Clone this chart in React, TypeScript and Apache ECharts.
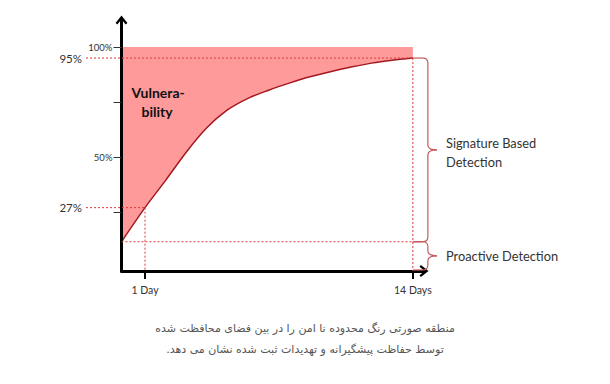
import React, { useEffect, useRef } from 'react';
import * as echarts from 'echarts';

// ---- data ----
const days = [-0.14, 1, 2, 3, 4, 5, 6, 7, 8, 9, 10, 11, 12, 13, 14];
const coverage = [11.5, 27, 39.4, 52.2, 63.3, 71.4, 76.7, 80.4, 83.6, 86.5, 88.8, 90.9, 92.7, 94, 95];
const ceiling = 100;
const yTickValues = [25, 50, 75, 100];
const yLabelValues = [50, 100];
const xTickValues = [1, 14];
const xTickLabels = ['1 Day', '14 Days'];
const markedLevels = [95, 27];
const markedDays = [14, 1];
const regionLabel = ['Vulnera-', 'bility'];
const signatureLabel = ['Signature Based', 'Detection'];
const proactiveLabel = 'Proactive Detection';
const captionLines = [
  'منطقه صورتی رنگ محدوده نا امن را در بین فضای محافظت شده',
  'توسط حفاظت پیشگیرانه و تهدیدات ثبت شده نشان می دهد.\u200F',
];

const X_MIN = -0.14;
const X_MAX = 14.54;
const Y_MIN = -1.8;
const Y_MAX = 112.3;

const LATIN = 'Lato, "Open Sans", sans-serif';
const DASH_COLOR = '#d83a3a';
const BRACE_COLOR = '#c25a5a';
const FILL_COLOR = '#ff9a9a';
const CHEVRON = 'path://M5,0L10,6.4L8.5,7.6L5,3.2L1.5,7.6L0,6.4Z';

export default function App() {
  const ref = useRef<HTMLDivElement>(null);

  useEffect(() => {
    if (!ref.current) return;
    const chart = echarts.init(ref.current, null, { renderer: 'svg' });

    chart.setOption({
      animation: false,
      backgroundColor: '#ffffff',
      grid: {
        left: 121.5,
        right: 186,
        top: 20,
        bottom: 113,
        containLabel: false,
        outerBoundsMode: 'none',
      },
      xAxis: {
        type: 'value',
        min: X_MIN,
        max: X_MAX,
        splitLine: { show: false },
        axisLine: {
          onZero: false,
          symbol: ['none', CHEVRON],
          symbolSize: [12, 9],
          lineStyle: { color: '#000', width: 3 },
        },
        axisTick: {
          show: true,
          customValues: xTickValues,
          length: 8,
          lineStyle: { color: '#000', width: 2 },
        },
        axisLabel: {
          show: true,
          customValues: xTickValues,
          margin: 13,
          fontSize: 10.5,
          fontFamily: LATIN,
          color: '#333',
          formatter: (v: number) => {
            const i = xTickValues.indexOf(Math.round(v));
            return i >= 0 ? xTickLabels[i] : '';
          },
        },
        z: 5,
      },
      yAxis: {
        type: 'value',
        min: Y_MIN,
        max: Y_MAX,
        splitLine: { show: false },
        axisLine: {
          onZero: false,
          symbol: ['none', CHEVRON],
          symbolSize: [12, 9],
          lineStyle: { color: '#000', width: 3 },
        },
        axisTick: {
          show: true,
          customValues: yTickValues,
          length: 8,
          lineStyle: { color: '#333', width: 1 },
        },
        axisLabel: {
          show: true,
          customValues: yLabelValues,
          margin: 9,
          fontSize: 9.5,
          fontFamily: LATIN,
          color: '#333',
          formatter: (v: number) => `${Math.round(v)}%`,
        },
        z: 5,
      },
      series: [
        {
          name: 'coverage',
          type: 'line',
          smooth: 0.3,
          symbol: 'none',
          data: days.map((d, i) => [d, coverage[i]]),
          lineStyle: { color: '#a3191f', width: 1.5 },
          areaStyle: { color: '#ffffff', opacity: 1, origin: 'start' },
          z: 3,
        },
      ],
    });

    const px = (x: number, y: number) =>
      chart.convertToPixel({ gridIndex: 0 }, [x, y]) as number[];

    const [xOrigin, yAxisPix] = px(X_MIN, Y_MIN);
    const yCeil = px(0, ceiling)[1];
    const yProactive = px(0, coverage[0])[1];
    const [x14, y95] = px(markedDays[0], markedLevels[0]);
    const [x1, y27] = px(markedDays[1], markedLevels[1]);
    const xEnd = px(days[days.length - 1], 0)[0];

    const dashed = { stroke: DASH_COLOR, lineWidth: 1, lineDash: [2, 2] };
    const braceStyle = { stroke: BRACE_COLOR, lineWidth: 1.2, fill: 'none' };

    const line = (x1a: number, y1a: number, x2a: number, y2a: number, style: any) => ({
      type: 'line',
      shape: { x1: x1a, y1: y1a, x2: x2a, y2: y2a },
      style,
      silent: true,
      z: 10,
    });
    const quad = (xa: number, ya: number, cx: number, cy: number, xb: number, yb: number) => ({
      type: 'bezierCurve',
      shape: { x1: xa, y1: ya, cpx1: cx, cpy1: cy, x2: xb, y2: yb },
      style: braceStyle,
      silent: true,
      z: 10,
    });
    const brace = (xs: number, ya: number, yb: number) => {
      const sx = xs + 15;
      const nx = sx + 9;
      const ym = (ya + yb) / 2;
      const r = 5;
      return [
        line(xs, ya, sx - r, ya, braceStyle),
        quad(sx - r, ya, sx, ya, sx, ya + r),
        line(sx, ya + r, sx, ym - r, braceStyle),
        quad(sx, ym - r, sx, ym, nx, ym),
        quad(nx, ym, sx, ym, sx, ym + r),
        line(sx, ym + r, sx, yb - r, braceStyle),
        quad(sx, yb - r, sx, yb, sx - r, yb),
        line(sx - r, yb, xs, yb, braceStyle),
      ];
    };

    const text = (t: string, x: number, y: number, extra: any) => ({
      type: 'text',
      x,
      y,
      silent: true,
      z: 12,
      style: { text: t, textVerticalAlign: 'middle', fill: '#333', fontFamily: LATIN, ...extra },
    });

    const labelX = xOrigin + 324.5;

    chart.setOption({
      graphic: [
        // vulnerability band: 0..100% behind the white area under the curve
        {
          type: 'rect',
          z: 0,
          silent: true,
          shape: { x: xOrigin, y: yCeil, width: xEnd - xOrigin, height: yAxisPix - yCeil },
          style: { fill: FILL_COLOR },
        },
        // 95% guide
        line(86, y95, x14, y95, dashed),
        line(x14, y95, x14, yAxisPix, dashed),
        // 27% guide
        line(86, y27, x1, y27, dashed),
        line(x1, y27, x1, yAxisPix, dashed),
        // proactive level
        line(xOrigin, yProactive, x14, yProactive, dashed),
        ...brace(x14, y95, yProactive),
        ...brace(x14, yProactive, yAxisPix - 1),
        text(`${markedLevels[0]}%`, 82, y95, { textAlign: 'right', fontSize: 11.5 }),
        text(`${markedLevels[1]}%`, 82, y27, { textAlign: 'right', fontSize: 11.5 }),
        text(regionLabel[0], xOrigin + 10, 92, { fontSize: 14, fontWeight: 'bold', fill: '#111' }),
        text(regionLabel[1], xOrigin + 20, 111, { fontSize: 14, fontWeight: 'bold', fill: '#111' }),
        text(signatureLabel[0], labelX, 143, { fontSize: 12.8 }),
        text(signatureLabel[1], labelX, 162, { fontSize: 12.8 }),
        text(proactiveLabel, labelX, (yProactive + yAxisPix) / 2, { fontSize: 12.8 }),
        text(captionLines[0], 305, 328, {
          textAlign: 'center',
          fontSize: 11,
          fill: '#555',
          fontFamily: '"DejaVu Sans", sans-serif',
        }),
        text(captionLines[1], 305, 349, {
          textAlign: 'center',
          fontSize: 11,
          fill: '#555',
          fontFamily: '"DejaVu Sans", sans-serif',
        }),
      ],
    });

    return () => chart.dispose();
  }, []);

  return (
    <div
      ref={ref}
      style={{ position: 'fixed', left: 0, top: 0, width: 610, height: 384, background: '#fff' }}
    />
  );
}
